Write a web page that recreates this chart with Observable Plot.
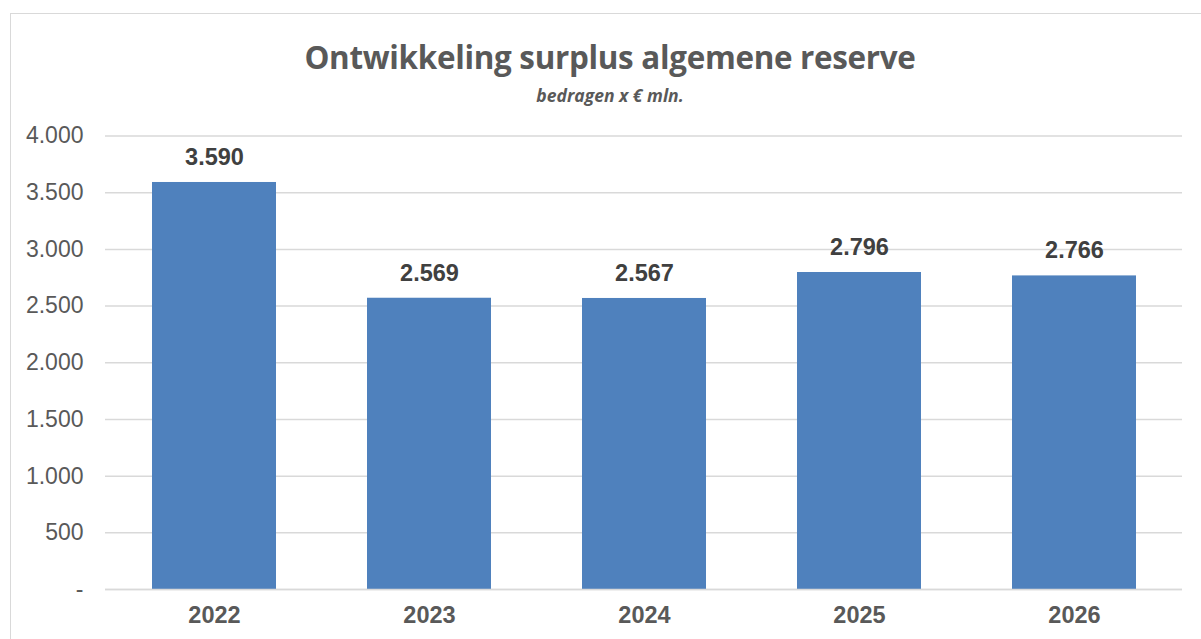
<!DOCTYPE html>
<html><head><meta charset="utf-8">
<script src="https://cdn.jsdelivr.net/npm/d3@7"></script>
<script src="https://cdn.jsdelivr.net/npm/@observablehq/plot@0.6"></script>
<style>
html,body{margin:0;padding:0;background:#fff;width:1201px;height:639px;overflow:hidden;}
#frame{position:absolute;left:10px;top:13px;width:1300px;height:700px;border-left:1.5px solid #d9d9d9;border-top:1.5px solid #d9d9d9;}
#wrap{position:absolute;left:0;top:0;width:1201px;}
#title{height:120px;position:relative;font-family:"Open Sans",sans-serif;color:#595959;text-align:center;}
#title .t{position:absolute;left:0;width:1220px;top:35px;font-size:31.4px;font-weight:700;line-height:44px;letter-spacing:-0.3px;}
#title .s{position:absolute;left:0;width:1220px;top:83px;font-size:17.5px;font-weight:700;font-style:italic;line-height:24px;}
svg{display:block;}
</style></head>
<body>
<div id="frame"></div>
<div id="wrap">
<div id="title"><div class="t">Ontwikkeling surplus algemene reserve</div><div class="s">bedragen x € mln.</div></div>
<div id="chart"></div>
</div>
<script>
const years = ["2022","2023","2024","2025","2026"];
const values = [3590, 2569, 2567, 2796, 2766];
const yTicks = [0,500,1000,1500,2000,2500,3000,3500,4000];
const data = years.map((y,i)=>({year:y, value:values[i]}));
const fmt = v => v === 0 ? "-" : d3.format(",")(v).replace(/,/g,".");
const chart = Plot.plot({
  width:1201, height:519,
  marginTop:15.5, marginBottom:50, marginLeft:105, marginRight:19,
  style:{fontFamily:"'Liberation Sans', Arial, sans-serif", background:"transparent"},
  x:{domain:years, paddingInner:0.424, paddingOuter:0.212, label:null},
  y:{domain:[0,4000], label:null},
  marks:[
    Plot.gridY(yTicks,{stroke:"#d9d9d9", strokeOpacity:1, strokeWidth:1.5}),
    Plot.barY(data,{x:"year", y:"value", fill:"#4f81bd"}),
    Plot.ruleY([0],{stroke:"#d9d9d9", strokeWidth:1.5}),
    Plot.text(data,{x:"year", y:"value", text:d=>fmt(d.value), dy:-25, fontSize:23.5, fontWeight:"bold", fill:"#404040", lineAnchor:"middle"}),
    Plot.axisY({ticks:yTicks, tickFormat:fmt, tickSize:0, tickPadding:22, fontSize:23, fill:"#595959", label:null}),
    Plot.axisX({tickSize:0, tickPadding:17, fontSize:23.5, fontWeight:"bold", fill:"#595959", label:null})
  ]
});
document.getElementById("chart").appendChild(chart);
</script>
</body></html>
